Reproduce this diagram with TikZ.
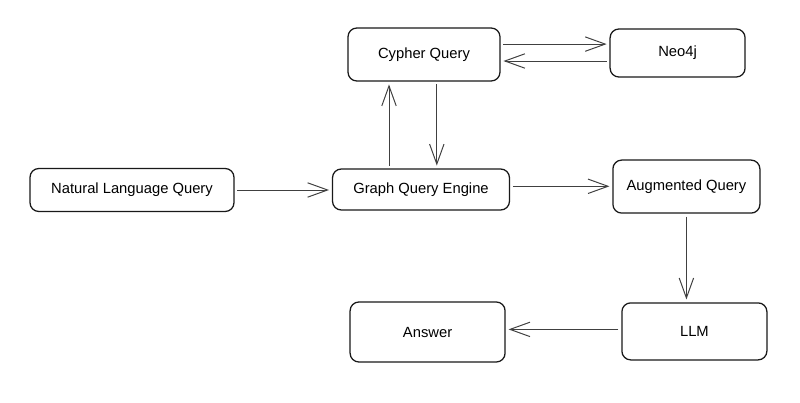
\documentclass[tikz,border=0pt]{standalone}
\usepackage{fontspec}
\setmainfont{Liberation Sans}
\usetikzlibrary{arrows.meta}

\begin{document}
\begin{tikzpicture}[
  box/.style={draw=black!90,line width=0.9pt,rounded corners=0.22cm,align=center,inner sep=0pt,font=\fontsize{10.5}{12}\selectfont},
  flow/.style={-{Straight Barb[length=0.5cm,width=0.36cm]},draw=black!75,line width=0.7pt,shorten <=2pt,shorten >=2pt}]
\useasboundingbox (0,0) rectangle (20,10.075);
\node[box,minimum width=5.1cm,minimum height=1.075cm] (nlq) at (3.3,5.325) {Natural Language Query};
\node[box,minimum width=4.425cm,minimum height=1.025cm] (gqe) at (10.525,5.3375) {Graph Query Engine};
\node[box,minimum width=3.8cm,minimum height=1.325cm] (cypher) at (10.6,8.7125) {Cypher Query};
\node[box,minimum width=3.375cm,minimum height=1.2cm] (neo) at (16.94,8.75) {Neo4j};
\node[box,minimum width=3.675cm,minimum height=1.325cm] (aug) at (17.16,5.41) {Augmented Query};
\node[box,minimum width=3.625cm,minimum height=1.425cm] (llm) at (17.36,1.79) {LLM};
\node[box,minimum width=3.875cm,minimum height=1.5cm] (ans) at (10.69,1.775) {Answer};
\coordinate (up) at ([xshift=-0.8cm]gqe.north);
\coordinate (down) at ([xshift=0.32cm]cypher.south);
\coordinate (toneo) at ([yshift=0.26cm]cypher.east);
\coordinate (fromneo) at ([yshift=-0.2cm]neo.west);
\draw[flow] (nlq.east) -- (nlq.east -| gqe.west);
\draw[flow] ([yshift=0.08cm]gqe.east) -- ([yshift=0.08cm]gqe.east -| aug.west);
\draw[flow] (up) -- (up |- cypher.south);
\draw[flow] (down) -- (down |- gqe.north);
\draw[flow] (toneo) -- (toneo -| neo.west);
\draw[flow] (fromneo) -- (fromneo -| cypher.east);
\draw[flow] (aug.south) -- (aug.south |- llm.north);
\draw[flow] ([yshift=0.05cm]llm.west) -- ([yshift=0.05cm]llm.west -| ans.east);
\end{tikzpicture}
\end{document}
